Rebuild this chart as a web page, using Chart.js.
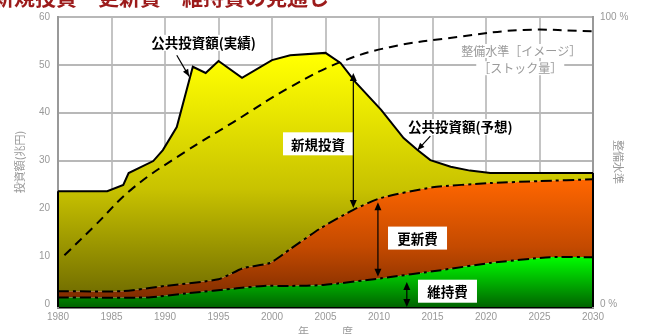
<!DOCTYPE html>
<html lang="ja">
<head>
<meta charset="utf-8">
<script src="https://cdn.jsdelivr.net/npm/chart.js@4.4.1/dist/chart.umd.min.js"></script>
<style>
  html, body { margin: 0; padding: 0; background: #fff; }
  #wrap { position: relative; width: 650px; height: 334px; overflow: hidden; }
  #chart { position: absolute; left: 0; top: 0; }
  #title {
    position: absolute; left: -7px; top: -14px;
    font: bold 21px/1 "Noto Sans CJK JP"; color: #9c1b1b; white-space: nowrap;
  }
</style>
</head>
<body>
<div id="wrap">
  <canvas id="chart" width="650" height="334"></canvas>
  <div id="title">新規投資・更新費・維持費の見通し</div>
</div>
<script>
/* ─── Data (兆円 / %) ─────────────────────────────────────── */
// 公共投資額: 実績 up to ~2002, 予想 after
const totalYears  = [1980, 1984.6, 1986.1, 1986.6, 1988.9, 1989.8, 1991.1, 1992.6, 1993.8, 1995, 1997.2, 2000, 2001.7, 2005, 2006.4, 2007.8, 2010.2, 2012.3, 2013.6, 2014.8, 2016.7, 2018.5, 2020.4, 2030];
const totalValues = [23.6, 23.6, 24.9, 27.4, 29.9, 32.2, 37.0, 49.6, 48.3, 50.8, 47.3, 51.0, 52.0, 52.5, 50.4, 46.4, 40.6, 34.7, 32.2, 30.1, 28.7, 27.9, 27.4, 27.4];

// 更新費 + 維持費 (upper edge of the renewal band)
const renewalYears  = [1980, 1986, 1990, 1995, 1997.3, 1999.8, 2001.7, 2004.5, 2007.6, 2010.2, 2015, 2020.4, 2025, 2030];
const renewalValues = [2.7, 2.7, 3.8, 5.2, 7.5, 8.6, 11.5, 15.8, 19.7, 22.2, 24.4, 25.3, 25.7, 26.1];

// 維持費
const maintYears  = [1980, 1988.3, 1992.3, 1996.7, 1999.2, 2001.7, 2004.8, 2010.2, 2015.8, 2020.4, 2026, 2030];
const maintValues = [1.4, 1.4, 2.3, 3.3, 3.8, 3.8, 4.0, 5.4, 7.1, 8.6, 9.8, 9.8];

// 整備水準 (ストック量), right axis %
const stockYears  = [1980.6, 1983.3, 1987, 1991.7, 1996.4, 2001.7, 2006.4, 2011, 2017.3, 2023.5, 2030];
const stockValues = [17, 26.8, 40.4, 52.6, 63.4, 75.6, 84.3, 89.5, 93, 95.5, 95];

const yearTicks  = [1980, 1985, 1990, 1995, 2000, 2005, 2010, 2015, 2020, 2025, 2030];
const amountTicks = [0, 10, 20, 30, 40, 50, 60];
const levelTicks = [0, 100];

/* ─── Annotation layout ──────────────────────────────────── */
const JP = '"Noto Sans CJK JP"';
const plainLabels = [
  { text: '公共投資額(実績)', year: 1993.6, value: 54.6 },
  { text: '公共投資額(予想)', year: 2017.6, value: 37.0 }
];
const boxLabels = [
  { text: '新規投資', year: 2004.3, value: 33.5, w: 70 },
  { text: '更新費',   year: 2013.6, value: 13.8, w: 59 },
  { text: '維持費',   year: 2016.4, value: 2.7,  w: 59 }
];
const stockLabels = [
  { text: '整備水準［イメージ］', year: 2023.3, value: 52.9 },
  { text: '［ストック量］',       year: 2023.2, value: 49.3 }
];
const spanArrows = [
  { year: 2007.6, from: 20.1, to: 48.3 },
  { year: 2009.9, from: 5.7,  to: 21.3 },
  { year: 2012.6, from: -0.6, to: 4.6 }
];
const pointerArrows = [
  { fromYear: 1991.1, fromValue: 52.0, toYear: 1992.25, toValue: 47.6 },
  { fromYear: 2014.8, fromValue: 35.1, toYear: 2013.6,  toValue: 32.2 }
];

/* ─── Helpers ────────────────────────────────────────────── */
const toPoints = (xs, ys) => xs.map((x, i) => ({ x, y: ys[i] }));

function vGradient(chart, stops) {
  const { ctx, chartArea, scales } = chart;
  if (!chartArea) return null;
  const ys = scales.y;
  const top = ys.getPixelForValue(stops[0][0]);
  const bottom = ys.getPixelForValue(stops[stops.length - 1][0]);
  const g = ctx.createLinearGradient(0, top, 0, bottom);
  stops.forEach(([v, c]) => g.addColorStop((ys.getPixelForValue(v) - top) / (bottom - top), c));
  return g;
}

function arrowHead(ctx, fx, fy, tx, ty, len, half) {
  const a = Math.atan2(ty - fy, tx - fx);
  const bx = tx - len * Math.cos(a), by = ty - len * Math.sin(a);
  ctx.beginPath();
  ctx.moveTo(tx, ty);
  ctx.lineTo(bx + half * Math.sin(a), by - half * Math.cos(a));
  ctx.lineTo(bx - half * Math.sin(a), by + half * Math.cos(a));
  ctx.closePath();
  ctx.fill();
}

/* ─── Overlay: block outline, labels, arrows ─────────────── */
const overlay = {
  id: 'overlay',
  afterDatasetsDraw(chart) {
    const { ctx, chartArea, scales: { x, y } } = chart;
    ctx.save();

    // closing edges of the stacked block
    ctx.strokeStyle = '#000';
    ctx.lineWidth = 2;
    const xl = x.getPixelForValue(totalYears[0]);
    const xr = x.getPixelForValue(totalYears[totalYears.length - 1]);
    ctx.beginPath();
    ctx.moveTo(xl, y.getPixelForValue(totalValues[0]));
    ctx.lineTo(xl, chartArea.bottom);
    ctx.moveTo(xr, y.getPixelForValue(totalValues[totalValues.length - 1]));
    ctx.lineTo(xr, chartArea.bottom);
    ctx.stroke();

    ctx.textAlign = 'center';
    ctx.textBaseline = 'middle';

    // 整備水準 caption
    ctx.font = `12px ${JP}`;
    stockLabels.forEach(l => {
      const px = x.getPixelForValue(l.year), py = y.getPixelForValue(l.value);
      const w = ctx.measureText(l.text).width;
      ctx.fillStyle = '#fff';
      ctx.fillRect(px - w / 2 - 2, py - 7, w + 4, 14);
      ctx.fillStyle = '#9a9a9a';
      ctx.fillText(l.text, px, py);
    });

    // curve captions
    ctx.font = `bold 13.5px ${JP}`;
    plainLabels.forEach(l => {
      const px = x.getPixelForValue(l.year), py = y.getPixelForValue(l.value);
      const w = ctx.measureText(l.text).width;
      ctx.fillStyle = '#fff';
      ctx.fillRect(px - w / 2 - 2, py - 8, w + 4, 16);
      ctx.fillStyle = '#000';
      ctx.fillText(l.text, px, py);
    });

    // boxed band names
    boxLabels.forEach(l => {
      const px = x.getPixelForValue(l.year), py = y.getPixelForValue(l.value);
      ctx.fillStyle = '#fff';
      ctx.fillRect(px - l.w / 2, py - 11.5, l.w, 23);
      ctx.fillStyle = '#000';
      ctx.fillText(l.text, px, py + 1);
    });

    // double-headed span arrows
    ctx.fillStyle = '#000';
    ctx.lineWidth = 1.2;
    spanArrows.forEach(a => {
      const px = x.getPixelForValue(a.year);
      const y0 = y.getPixelForValue(a.from), y1 = y.getPixelForValue(a.to);
      ctx.beginPath();
      ctx.moveTo(px, y0 - 6);
      ctx.lineTo(px, y1 + 6);
      ctx.stroke();
      arrowHead(ctx, px, y1, px, y0, 8, 3.5);
      arrowHead(ctx, px, y0, px, y1, 8, 3.5);
    });

    // caption pointers
    pointerArrows.forEach(a => {
      const fx = x.getPixelForValue(a.fromYear), fy = y.getPixelForValue(a.fromValue);
      const tx = x.getPixelForValue(a.toYear), ty = y.getPixelForValue(a.toValue);
      ctx.beginPath();
      ctx.moveTo(fx, fy);
      ctx.lineTo(tx, ty);
      ctx.stroke();
      arrowHead(ctx, fx, fy, tx, ty, 7, 3);
    });

    ctx.restore();
  }
};

/* ─── Chart ──────────────────────────────────────────────── */
Chart.defaults.font.family = '"Liberation Sans"';
const dashDot = [11, 4, 3, 4];

new Chart(document.getElementById('chart'), {
  type: 'line',
  data: {
    datasets: [
      {
        label: '維持費',
        data: toPoints(maintYears, maintValues),
        borderColor: '#000', borderWidth: 2, borderDash: dashDot,
        pointRadius: 0, tension: 0.2, fill: 'start',
        backgroundColor: c => vGradient(c.chart, [[10, '#00ff00'], [-0.6, '#006400']])
      },
      {
        label: '更新費',
        data: toPoints(renewalYears, renewalValues),
        borderColor: '#000', borderWidth: 2, borderDash: dashDot,
        pointRadius: 0, tension: 0.2, fill: '-1',
        backgroundColor: c => vGradient(c.chart, [[26, '#ff6600'], [12, '#c44a00'], [1, '#7e2c00']])
      },
      {
        label: '公共投資額',
        data: toPoints(totalYears, totalValues),
        borderColor: '#000', borderWidth: 2,
        pointRadius: 0, tension: 0, fill: '-1',
        backgroundColor: c => vGradient(c.chart, [[51, '#ffff00'], [24, '#c8c200'], [1, '#6e6a00']])
      },
      {
        label: '整備水準',
        data: toPoints(stockYears, stockValues),
        yAxisID: 'y2',
        order: -1,
        borderColor: '#000', borderWidth: 2, borderDash: [9, 6],
        pointRadius: 0, tension: 0.4, fill: false
      }
    ]
  },
  options: {
    responsive: false,
    animation: false,
    layout: { padding: { top: 17, left: 0, right: 0, bottom: 0 } },
    plugins: {
      legend: { display: false },
      tooltip: { enabled: false },
      filler: { drawTime: 'beforeDatasetsDraw' }
    },
    scales: {
      x: {
        type: 'linear', min: 1980, max: 2030,
        afterBuildTicks: s => { s.ticks = yearTicks.map(v => ({ value: v })); },
        afterFit: s => { s.height = 27; },
        ticks: { padding: 4, color: '#999', font: { size: 10 }, maxRotation: 0, autoSkip: false, callback: v => String(v) },
        grid: { color: '#c4c4c4', lineWidth: 2, drawTicks: false },
        border: { color: '#000', width: 2.5 },
        title: {
          display: true, text: '年\u3000\u3000\u3000度', color: '#999',
          font: { family: 'Noto Sans CJK JP', size: 11, lineHeight: 1 },
          padding: { top: 0, bottom: -3 }
        }
      },
      y: {
        position: 'left', min: -0.6, max: 60,
        afterBuildTicks: s => { s.ticks = amountTicks.map(v => ({ value: v })); },
        afterFit: s => { s.width = 58; },
        ticks: { padding: 8, color: '#999', font: { size: 10 } },
        grid: { color: '#b8b8b8', lineWidth: 2, drawTicks: false },
        border: { color: '#999', width: 2 },
        title: {
          display: true, text: '投資額(兆円)', color: '#999',
          font: { family: 'Noto Sans CJK JP', size: 11 },
          padding: { top: 13.4, bottom: 0 }
        }
      },
      y2: {
        position: 'right', min: -1, max: 100,
        afterBuildTicks: s => { s.ticks = levelTicks.map(v => ({ value: v })); },
        afterFit: s => { s.width = 57; },
        ticks: { padding: 7, color: '#999', font: { size: 10 }, callback: v => v + ' %' },
        grid: { display: false, drawTicks: false },
        border: { color: '#999', width: 2 },
        title: {
          display: true, text: '整備水準', color: '#999',
          font: { family: 'Noto Sans CJK JP', size: 11 },
          padding: { top: 25.4, bottom: 0 }
        }
      }
    }
  },
  plugins: [overlay]
});
</script>
</body>
</html>
